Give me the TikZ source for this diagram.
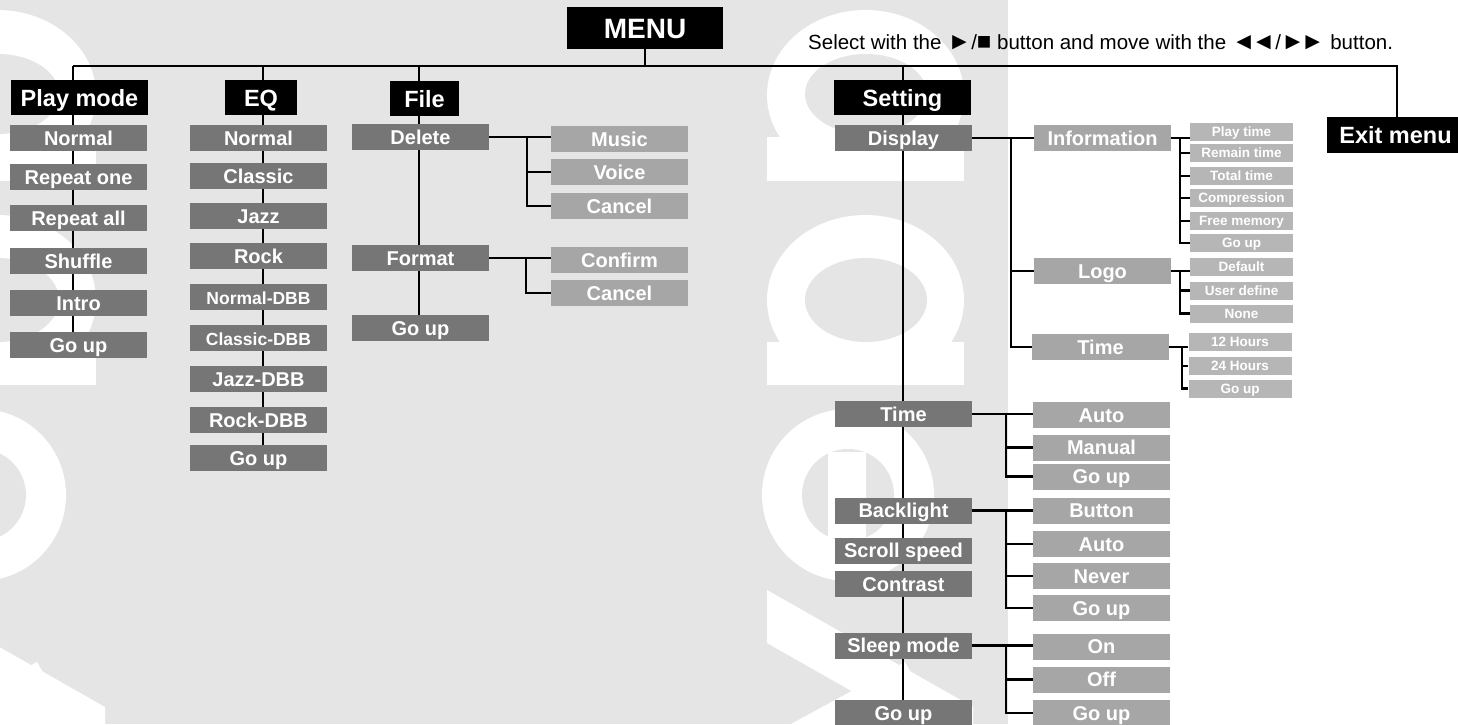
\documentclass[tikz,border=0pt]{standalone}
\usepackage{fontspec}
\setmainfont{Liberation Sans}
\usetikzlibrary{backgrounds}
\definecolor{bggray}{HTML}{E5E5E5}
\definecolor{darkbox}{HTML}{767676}
\definecolor{midbox}{HTML}{A6A6A6}
\definecolor{lightbox}{HTML}{B6B6B6}
\newcommand{\yeppglyphs}{%
  \fill (865.5,95) ellipse [x radius=98.5pt, y radius=85pt];
  \fill (767,137) rectangle (964,181);
  \fill (865.5,300) ellipse [x radius=98.5pt, y radius=85pt];
  \fill (767,342) rectangle (964,385);
  \fill (848,495) circle [radius=86pt];
  \fill (767,590) -- (973,707) -- (973,760) -- (767,643) -- cycle;
  \fill (767,737) -- (905,662) -- (935,715) -- (767,790) -- cycle;
  \fill[bggray] (866,94) ellipse [x radius=61pt, y radius=40pt];
  \fill[bggray] (866,300) ellipse [x radius=61pt, y radius=42pt];
  \fill[bggray] (848,495) circle [radius=46pt];
  \fill (828,452) rectangle (866,538);
}
\newcommand{\keysym}[1]{{\fontsize{24}{24}\selectfont #1}}

\begin{document}
\begin{tikzpicture}[
    x=1pt, y=-1pt,
    hdr/.style={fill=black, text=white, inner sep=0pt, minimum height=35pt,
      font=\fontsize{23.5}{24}\selectfont\bfseries, text height=17pt, text depth=0pt},
    dk/.style={fill=darkbox, text=white, inner sep=0pt, minimum width=137pt, minimum height=26pt,
      font=\fontsize{20}{21}\selectfont\bfseries, text height=14.3pt, text depth=0pt},
    md/.style={dk, fill=midbox},
    lt/.style={fill=lightbox, text=white, inner sep=0pt, minimum width=103pt, minimum height=18pt,
      font=\fontsize{13.5}{14}\selectfont\bfseries, text height=9.7pt, text depth=0pt},
    link/.style={line width=2.3pt}
  ]
  \useasboundingbox (0,0) rectangle (1458,724);
  \begin{scope}[on background layer]
    \fill[white] (0,0) rectangle (1458,724);
    \fill[bggray] (0,0) rectangle (1008,724);
    \begin{scope}[white]
      \clip (0,0) rectangle (1008,724);
      \yeppglyphs
      \begin{scope}[xshift=-868pt]
        \yeppglyphs
      \end{scope}
    \end{scope}
  \end{scope}

  \node[hdr, minimum width=156pt, minimum height=42pt, font=\fontsize{28}{29}\selectfont\bfseries, text height=20pt] (menu) at (645,28) {MENU};
  \node[anchor=base west, inner sep=0pt, font=\fontsize{20.5}{22}\selectfont] (hint) at (808,49)
    {Select with the\hspace{6pt}\keysym{►}/\keysym{■} button and move with the \keysym{◄\kern-4pt◄}/\keysym{►\kern-4pt►} button.};

  \node[hdr, minimum width=137pt] (play) at (79.5,97.5) {Play mode};
  \node[hdr, minimum width=72pt] (eq) at (261,97.5) {EQ};
  \node[hdr, minimum width=69pt] (file) at (424.5,98.5) {File};
  \node[hdr, minimum width=137pt] (setting) at (902.5,97.5) {Setting};
  \node[hdr, minimum width=137pt, minimum height=36pt] (exitmenu) at (1395.5,135) {Exit menu};

  \node[dk] (pNormal) at (78.5,138) {Normal};
  \node[dk] (pRepOne) at (78.5,177) {Repeat one};
  \node[dk] (pRepAll) at (78.5,218) {Repeat all};
  \node[dk] (pShuffle) at (78.5,261) {Shuffle};
  \node[dk] (pIntro) at (78.5,303) {Intro};
  \node[dk] (pGoup) at (78.5,345) {Go up};

  \node[dk] (eNormal) at (258.5,138) {Normal};
  \node[dk] (eClassic) at (258.5,176) {Classic};
  \node[dk] (eJazz) at (258.5,216) {Jazz};
  \node[dk] (eRock) at (258.5,256) {Rock};
  \node[dk, font=\fontsize{17.5}{18}\selectfont\bfseries] (eNormalDbb) at (258.5,297) {Normal-DBB};
  \node[dk, font=\fontsize{17.5}{18}\selectfont\bfseries] (eClassicDbb) at (258.5,338) {Classic-DBB};
  \node[dk] (eJazzDbb) at (258.5,379) {Jazz-DBB};
  \node[dk] (eRockDbb) at (258.5,420) {Rock-DBB};
  \node[dk] (eGoup) at (258.5,458) {Go up};

  \node[dk] (fDelete) at (420.5,137) {Delete};
  \node[dk] (fFormat) at (420.5,258) {Format};
  \node[dk] (fGoup) at (420.5,328) {Go up};
  \node[md] (dMusic) at (619.5,139) {Music};
  \node[md] (dVoice) at (619.5,172) {Voice};
  \node[md] (dCancel) at (619.5,206) {Cancel};
  \node[md] (fmConfirm) at (619.5,260) {Confirm};
  \node[md] (fmCancel) at (619.5,293) {Cancel};

  \node[dk] (sDisplay) at (903.5,138) {Display};
  \node[dk] (sTime) at (903.5,414) {Time};
  \node[dk] (sBacklight) at (903.5,510.5) {Backlight};
  \node[dk] (sScroll) at (903.5,550.5) {Scroll speed};
  \node[dk] (sContrast) at (903.5,584) {Contrast};
  \node[dk] (sSleep) at (903.5,645.5) {Sleep mode};
  \node[dk] (sGoup) at (903.5,713) {Go up};

  \node[md] (info) at (1102.5,138) {Information};
  \node[md] (logo) at (1102.5,271) {Logo};
  \node[md] (dTime) at (1100.5,347) {Time};
  \node[lt] (iPlay) at (1241.5,132) {Play time};
  \node[lt] (iRemain) at (1241.5,153) {Remain time};
  \node[lt] (iTotal) at (1241.5,176) {Total time};
  \node[lt] (iComp) at (1241.5,198) {Compression};
  \node[lt] (iFree) at (1241.5,221) {Free memory};
  \node[lt] (iGoup) at (1241.5,243) {Go up};
  \node[lt] (lDefault) at (1241.5,267) {Default};
  \node[lt] (lUser) at (1241.5,290.5) {User define};
  \node[lt] (lNone) at (1241.5,313.5) {None};
  \node[lt] (h12) at (1240,341.5) {12 Hours};
  \node[lt] (h24) at (1240,366) {24 Hours};
  \node[lt] (hGoup) at (1240,388.5) {Go up};

  \node[md] (tAuto) at (1101.5,415) {Auto};
  \node[md] (tManual) at (1101.5,447.5) {Manual};
  \node[md] (tGoup) at (1101.5,476.5) {Go up};
  \node[md] (bButton) at (1101.5,510.5) {Button};
  \node[md] (bAuto) at (1101.5,544) {Auto};
  \node[md] (bNever) at (1101.5,576) {Never};
  \node[md] (bGoup) at (1101.5,608) {Go up};
  \node[md] (slOn) at (1101.5,646.5) {On};
  \node[md] (slOff) at (1101.5,679.5) {Off};
  \node[md] (slGoup) at (1101.5,713) {Go up};

  \coordinate (tPlay) at (73,66);
  \coordinate (tEq) at (263,66);
  \coordinate (tFile) at (419,66);
  \coordinate (tSet) at (903,66);
  \coordinate (tExit) at (1397,66);
  \coordinate (kDel) at (527,0);
  \coordinate (kFmt) at (526,0);
  \coordinate (kDisp) at (1011,0);
  \coordinate (kInfo) at (1180,0);
  \coordinate (kTime) at (1182,0);
  \coordinate (kSet) at (1006,0);

  \begin{scope}[on background layer]
    \draw[link] (menu) -- (menu |- tPlay);
    \draw[link] (tPlay) -- (tExit) -- (tExit |- exitmenu.north);
    \draw[link] (tPlay) -- (tPlay |- pGoup);
    \draw[link] (tEq) -- (tEq |- eGoup);
    \draw[link] (tFile) -- (tFile |- fGoup);
    \draw[link] (tSet) -- (tSet |- sGoup);

    \draw[link] (fDelete) -- (fDelete -| dMusic.west);
    \draw[link] (kDel |- fDelete) -- (kDel |- dCancel) -- (dCancel.west);
    \draw[link] (kDel |- dVoice) -- (dVoice.west);
    \draw[link] (fFormat) -- (fFormat -| fmConfirm.west);
    \draw[link] (kFmt |- fFormat) -- (kFmt |- fmCancel) -- (fmCancel.west);

    \draw[link] (sDisplay) -- (sDisplay -| info.west);
    \draw[link] (kDisp |- sDisplay) -- (kDisp |- dTime) -- (dTime.west);
    \draw[link] (kDisp |- logo) -- (logo.west);
    \draw[link] (info) -- (info -| iPlay.west);
    \draw[link] (kInfo |- info) -- (kInfo |- iGoup) -- (iGoup.west);
    \draw[link] (kInfo |- iRemain) -- (iRemain.west);
    \draw[link] (kInfo |- iTotal) -- (iTotal.west);
    \draw[link] (kInfo |- iComp) -- (iComp.west);
    \draw[link] (kInfo |- iFree) -- (iFree.west);
    \draw[link] (logo) -- (logo -| lDefault.west);
    \draw[link] (kInfo |- logo) -- (kInfo |- lNone) -- (lNone.west);
    \draw[link] (kInfo |- lUser) -- (lUser.west);
    \draw[link] (dTime) -- (dTime -| h12.west);
    \draw[link] (kTime |- dTime) -- (kTime |- hGoup) -- (hGoup.west);
    \draw[link] (kTime |- h24) -- (h24.west);

    \draw[link] (sTime) -- (sTime -| tAuto.west);
    \draw[link] (kSet |- sTime) -- (kSet |- tGoup) -- (tGoup.west);
    \draw[link] (kSet |- tManual) -- (tManual.west);
    \draw[link] (sBacklight) -- (sBacklight -| bButton.west);
    \draw[link] (kSet |- sBacklight) -- (kSet |- bGoup) -- (bGoup.west);
    \draw[link] (kSet |- bAuto) -- (bAuto.west);
    \draw[link] (kSet |- bNever) -- (bNever.west);
    \draw[link] (sSleep) -- (sSleep -| slOn.west);
    \draw[link] (kSet |- sSleep) -- (kSet |- slGoup) -- (slGoup.west);
    \draw[link] (kSet |- slOff) -- (slOff.west);
  \end{scope}
\end{tikzpicture}
\end{document}
